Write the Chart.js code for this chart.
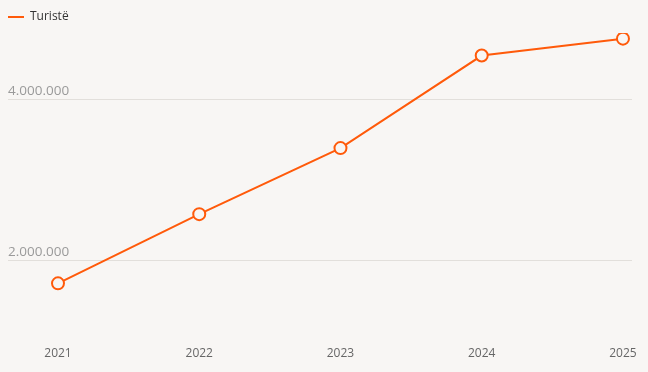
<!DOCTYPE html>
<html>
<head>
<meta charset="utf-8">
<script src="https://cdn.jsdelivr.net/npm/chart.js@4/dist/chart.umd.min.js"></script>
<style>
  html, body { margin: 0; padding: 0; background: #f8f6f4; }
  #wrap { width: 648px; height: 372px; position: relative; }
</style>
</head>
<body>
<div id="wrap"><canvas id="chart"></canvas></div>
<script>
var years = [2021, 2022, 2023, 2024, 2025];
var tourists = [1710000, 2570000, 3390000, 4540000, 4750000];
var yTicks = [2000000, 4000000];
var seriesLabel = 'Turistë';

var orange = '#ff5a0a';
var bg = '#f8f6f4';

var ctx = document.getElementById('chart').getContext('2d');
new Chart(ctx, {
    type: 'line',
    data: {
        datasets: [{
            label: seriesLabel,
            data: years.map(function(y, i) { return {x: y, y: tourists[i]}; }),
            borderColor: orange,
            backgroundColor: bg,
            borderWidth: 2,
            pointRadius: 6,
            pointBorderWidth: 2,
            pointBackgroundColor: bg,
            pointBorderColor: orange,
            tension: 0
        }]
    },
    options: {
        responsive: true,
        maintainAspectRatio: false,
        animation: false,
        layout: { padding: { left: 8, right: 16, top: 11, bottom: 0 } },
        plugins: {
            legend: {
                align: 'start',
                labels: {
                    usePointStyle: true,
                    pointStyle: 'line',
                    pointStyleWidth: 16,
                    padding: 0,
                    color: '#333',
                    font: { family: 'Open Sans', size: 12 }
                }
            },
            tooltip: { enabled: false }
        },
        scales: {
            x: {
                type: 'linear',
                min: 2020.646,
                max: 2025.064,
                afterBuildTicks: function(axis) {
                    axis.ticks = years.map(function(y) { return {value: y}; });
                },
                afterFit: function(axis) {
                    // let the last label hang past the plot edge
                    axis.paddingRight = 0;
                    axis.paddingLeft = 0;
                },
                grid: { display: false, drawTicks: false },
                border: { display: false },
                ticks: {
                    padding: 11,
                    color: '#666',
                    font: { family: 'Open Sans', size: 12 },
                    callback: function(v) { return String(v); }
                }
            },
            y: {
                min: 1061000,
                max: 4820000,
                afterBuildTicks: function(axis) {
                    axis.ticks = yTicks.map(function(v) { return {value: v}; });
                },
                grid: { color: '#e2dfdb', drawTicks: false },
                border: { display: false },
                ticks: {
                    mirror: true,
                    padding: 0,
                    labelOffset: -8,
                    color: '#9a9a9a',
                    font: { family: 'Open Sans', size: 13.5 },
                    callback: function(v) { return v.toLocaleString('de-DE'); }
                }
            }
        }
    }
});
</script>
</body>
</html>
